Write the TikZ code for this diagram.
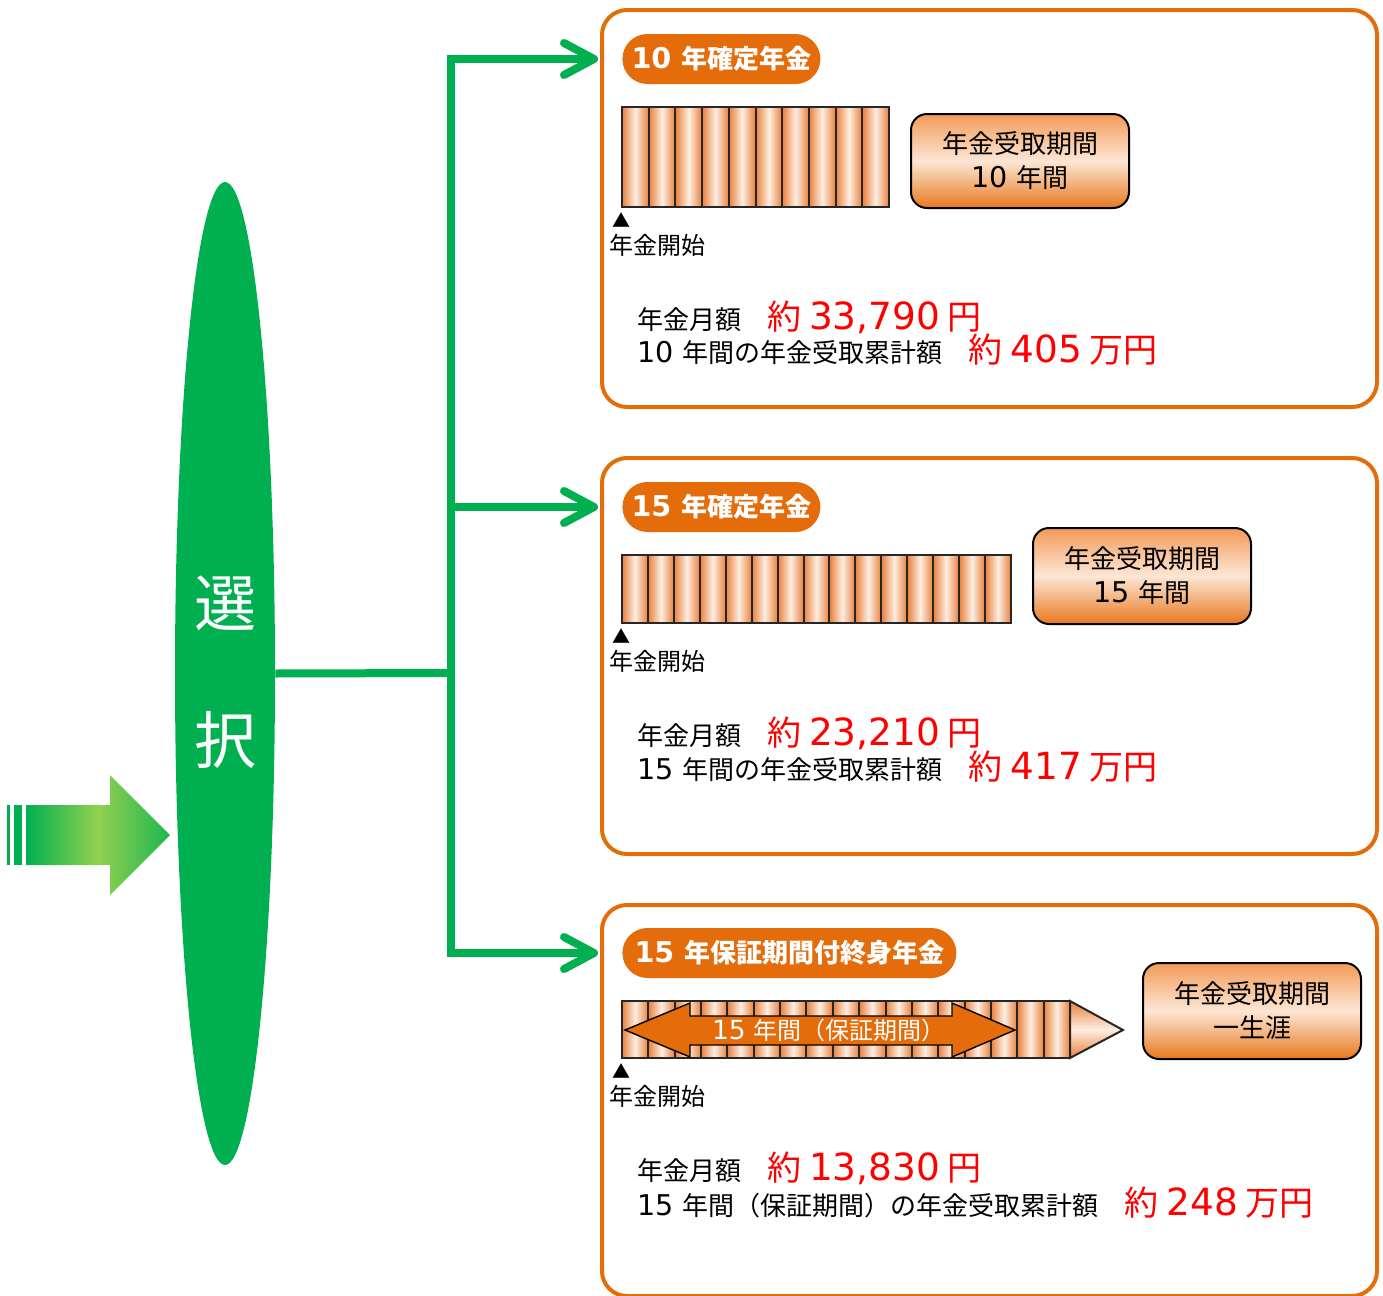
\documentclass[tikz,border=0pt]{standalone}
\usepackage{fontspec}
\setmainfont{Noto Sans CJK JP}
\newfontfamily\numfont{DejaVu Sans}[Scale=1.1]
\usetikzlibrary{shapes.geometric, arrows.meta}

\definecolor{grn}{HTML}{00B050}
\definecolor{lgrn}{HTML}{92D050}
\definecolor{org}{HTML}{E46C0A}
\definecolor{segorg}{HTML}{E9803C}
\definecolor{seglt}{HTML}{FDEEE2}
\definecolor{durtop}{HTML}{F39A58}
\definecolor{durmid}{HTML}{FCE6D4}
\definecolor{durbot}{HTML}{E8781E}

\newcommand\amount[1]{{\color{red}\fontsize{17pt}{20pt}\selectfont #1}}
\newcommand\nm[1]{{\numfont #1}}

\begin{document}
\begin{tikzpicture}[x=.5pt, y=-.5pt,
    panel/.style={draw=org, line width=2pt, rounded corners=12.5pt,
        minimum width=387.5pt, anchor=north west, inner sep=0pt},
    pill/.style={fill=org, rounded corners=12.5pt, minimum height=25pt,
        anchor=west, inner sep=0pt, text=white,
        font=\fontsize{13pt}{16pt}\selectfont\bfseries},
    seg/.style={draw=black!85, line width=1pt,
        left color=segorg, right color=segorg, middle color=seglt},
    period/.style={draw=black, line width=1pt, rounded corners=8pt,
        minimum width=109pt, anchor=north west, align=center,
        top color=durtop, bottom color=durbot, middle color=durmid,
        font=\fontsize{13pt}{17pt}\selectfont},
    conn/.style={draw=grn, line width=4pt},
    barbtip/.style={-{Straight Barb[length=15pt, width=16pt, round]}, shorten >=1pt},
    info/.style={anchor=base west, inner sep=0pt,
        font=\fontsize{13pt}{16pt}\selectfont},
    startmark/.style={inner sep=0pt, font=\fontsize{9pt}{10pt}\selectfont},
    start/.style={anchor=west, inner sep=0pt,
        font=\fontsize{12pt}{14pt}\selectfont}]
    \useasboundingbox (0,0) rectangle (1383,1296);

    % left arrow
    \fill[grn] (7,805) rectangle (10,865);
    \fill[grn] (14,805) rectangle (22,865);
    \shade[left color=grn, right color=grn!80!lgrn, middle color=lgrn]
        (26,805) -- (110,805) -- (110,775) -- (170,835) -- (110,895)
        -- (110,865) -- (26,865) -- cycle;

    % selection
    \node[ellipse, fill=grn, minimum width=50pt, minimum height=491.5pt,
        inner sep=0pt] (sel) at (225,673.5) {};
    \node[text=white, font=\fontsize{31pt}{34pt}\selectfont] (sel1) at (225,603) {選};
    \node[text=white, font=\fontsize{31pt}{34pt}\selectfont] (sel2) at (225,740) {択};

    % panels
    \node[panel, minimum height=198.5pt] (p1) at (600,8) {};
    \node[panel, minimum height=198pt] (p2) at (600,456) {};
    \node[panel, minimum height=195.5pt] (p3) at (600,903) {};

    \node[pill, minimum width=99pt] (t1) at (622,59) {\nm{10 }年確定年金};
    \node[pill, minimum width=99pt] (t2) at (622,507) {\nm{15 }年確定年金};
    \node[pill, minimum width=167pt] (t3) at (622,953) {\nm{15 }年保証期間付終身年金};

    % connectors
    \coordinate (fork) at (451,673);
    \draw[conn] (sel.east) -- (fork);
    \draw[conn, barbtip] (fork) |- (t1 -| p1.west);
    \draw[conn, barbtip] (fork) |- (t2 -| p2.west);
    \draw[conn, barbtip] (fork) |- (t3 -| p3.west);

    % 10 years
    \def\w{26.7}
    \foreach \i in {0,...,9}
        \draw[seg] ({622+\i*\w},107) rectangle ({622+(\i+1)*\w},207);
    \node[period, minimum height=47pt] (d1) at (910,113) {年金受取期間\\\nm{10 }年間};
    \node[startmark] (m1) at (621,220) {▲};
    \node[start] (s1) at (609,245) {年金開始};
    \node[info] (a1) at (637,329) {年金月額　\amount{約 \nm{33,790} 円}};
    \node[info] (b1) at (637,362) {\nm{10 }年間の年金受取累計額　\amount{約 \nm{405} 万円}};

    % 15 years
    \def\w{25.93}
    \foreach \i in {0,...,14}
        \draw[seg] ({622+\i*\w},555) rectangle ({622+(\i+1)*\w},623);
    \node[period, minimum height=48pt] (d2) at (1032,527) {年金受取期間\\\nm{15 }年間};
    \node[startmark] (m2) at (621,636) {▲};
    \node[start] (s2) at (609,661) {年金開始};
    \node[info] (a2) at (637,745) {年金月額　\amount{約 \nm{23,210} 円}};
    \node[info] (b2) at (637,779) {\nm{15 }年間の年金受取累計額　\amount{約 \nm{417} 万円}};

    % whole life
    \def\w{26.35}
    \foreach \i in {0,...,16}
        \draw[seg] ({622+\i*\w},1001) rectangle ({622+(\i+1)*\w},1058);
    \draw[draw=black!85, line width=1pt, top color=segorg, bottom color=segorg,
        middle color=seglt] (1070,1001) -- (1123,1030) -- (1070,1058) -- cycle;
    \draw[fill=org, draw=black, line width=.7pt]
        (625,1030) -- (690,1003) -- (690,1016) -- (952,1016) -- (952,1003)
        -- (1015,1030) -- (952,1057) -- (952,1045) -- (690,1045) -- (690,1057) -- cycle;
    \node[text=white, font=\fontsize{12pt}{14pt}\selectfont] (g3) at (829,1030) {\nm{15 }年間（保証期間）};
    \node[period, minimum height=48pt] (d3) at (1142,962) {年金受取期間\\一生涯};
    \node[startmark] (m3) at (621,1071) {▲};
    \node[start] (s3) at (609,1096) {年金開始};
    \node[info] (a3) at (637,1180) {年金月額　\amount{約 \nm{13,830} 円}};
    \node[info] (b3) at (637,1215) {\nm{15 }年間（保証期間）の年金受取累計額　\amount{約 \nm{248} 万円}};
\end{tikzpicture}
\end{document}
